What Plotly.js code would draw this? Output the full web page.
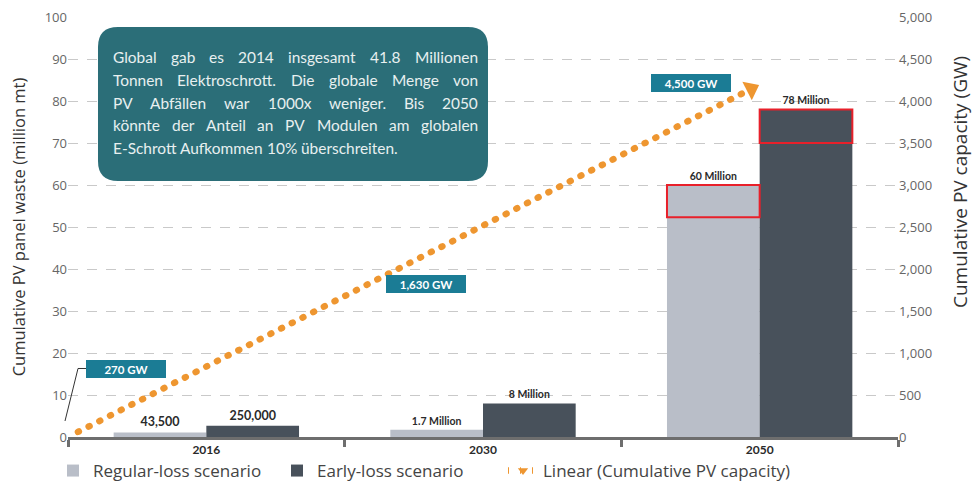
<!DOCTYPE html>
<html><head><meta charset="utf-8">
<script src="https://cdn.plot.ly/plotly-3.0.1.min.js"></script>
<style>
html,body{margin:0;padding:0;background:#fff;}
#chart{width:976px;height:486px;}
.scatterlayer path.js-line, .legend path.js-line{stroke-linecap:round !important;}
.legend path.legendbar{transform:scale(1.5);}
</style></head><body><div id="chart"></div>
<script>
// ---- data ----
const years = ['2016', '2030', '2050'];
const regularLoss = [1.1, 1.7, 60];     // million mt (bar heights as drawn)
const earlyLoss = [2.7, 8, 78];
const regularLabels = ['43,500', '1.7 Million', '60 Million'];
const earlyLabels = ['250,000', '8 Million', '78 Million'];
const capacityLabels = ['270 GW', '1,630 GW', '4,500 GW'];
const trendPos = [0.036, 2.469];        // position along the category axis (0..3)
const trendGW = [60, 4143];             // linear trend of cumulative PV capacity (GW)
const boxLines = [
  'Global gab es 2014 insgesamt 41.8 Millionen',
  'Tonnen Elektroschrott. Die globale Menge von',
  'PV Abfällen war 1000x weniger. Bis 2050',
  'könnte der Anteil an PV Modulen am globalen',
  'E-Schrott Aufkommen 10% überschreiten.'
];

// ---- geometry helpers ----
const L = 68, R = 898, T = 17, B = 437;
const fx = x => (x - L) / (R - L);
const fy = y => (B - y) / (B - T);
const P = (x, y) => fx(x).toFixed(5) + ',' + fy(y).toFixed(5);

const ORANGE = '#ee9630';
const TEAL = '#1b7c95';
const BOXC = '#2b6e78';

const traces = [
  {
    type: 'bar', name: 'Regular-loss scenario', x: years, y: regularLoss, legend: 'legend',
    text: regularLabels, textposition: 'outside', cliponaxis: false, constraintext: 'none',
    textfont: {family: 'Lato', size: [12.5, 10.5, 10.5], color: '#2a2a2a', weight: 700},
    marker: {color: '#b9bec8'}, hoverinfo: 'skip'
  },
  {
    type: 'bar', name: 'Early-loss scenario', x: years, y: earlyLoss, legend: 'legend2',
    text: earlyLabels, textposition: 'outside', cliponaxis: false, constraintext: 'none',
    textfont: {family: 'Lato', size: [12.5, 10.5, 10.5], color: '#2a2a2a', weight: 700},
    marker: {color: '#48515b'}, hoverinfo: 'skip'
  },
  {
    type: 'scatter', name: 'Linear (Cumulative PV capacity)', x: trendPos, y: trendGW, legend: 'legend3',
    xaxis: 'x2', yaxis: 'y2', mode: 'lines+markers', cliponaxis: false,
    line: {color: ORANGE, width: 6.5, dash: '1px,11px'},
    marker: {symbol: ['triangle-right', 'triangle-up'], size: [0, 18], angleref: 'previous',
             color: ORANGE, opacity: 1, line: {width: 0, color: ORANGE}},
    hoverinfo: 'skip'
  }
];

// ---- annotations ----
const annotations = [];
const capPos = [[126, 369], [426, 283.5], [691, 83]];
capacityLabels.forEach((t, i) => {
  annotations.push({
    xref: 'paper', yref: 'paper', x: fx(capPos[i][0]), y: fy(capPos[i][1]),
    xanchor: 'center', yanchor: 'middle',
    text: '<b>' + t + '</b>', showarrow: false, width: 80, height: 18,
    bgcolor: TEAL, borderpad: 0, borderwidth: 0,
    font: {family: 'Lato', size: 11.5, color: '#ffffff'}
  });
});

// right axis title (placed like the original, off-centre)
annotations.push({
  xref: 'paper', yref: 'paper', x: fx(960), y: fy(182), xanchor: 'center', yanchor: 'middle',
  text: 'Cumulative PV capacity (GW)', textangle: -90, showarrow: false,
  font: {family: 'Open Sans', size: 19, color: '#333'}
});

// justified text box
const cv = document.createElement('canvas').getContext('2d');
const FAM = 'Lato';
cv.font = '15px ' + FAM;
let fs = 15 * 285 / cv.measureText(boxLines[4]).width;
fs = Math.max(12, Math.min(16, fs));
cv.font = fs + 'px ' + FAM;
const Lx = 113, Rx = 478, y0 = 57.5, dy = 22.5;
boxLines.forEach((line, i) => {
  const words = line.split(' ');
  const ws = words.map(w => cv.measureText(w).width);
  const tot = ws.reduce((a, b) => a + b, 0);
  const gap = (i < boxLines.length - 1) ? (Rx - Lx - tot) / (words.length - 1) : cv.measureText(' ').width;
  let x = Lx;
  words.forEach((w, k) => {
    annotations.push({
      xref: 'paper', yref: 'paper', x: fx(x), y: fy(y0 + i * dy), xanchor: 'left', yanchor: 'middle',
      text: w, showarrow: false, borderpad: 0, borderwidth: 0,
      font: {family: FAM, size: fs, color: '#e8f0f0'}
    });
    x += ws[k] + gap;
  });
});

// ---- shapes ----
function roundRect(x0, y0, x1, y1, r) {
  return 'M' + P(x0 + r, y0) + ' L' + P(x1 - r, y0) + ' Q' + P(x1, y0) + ' ' + P(x1, y0 + r) +
    ' L' + P(x1, y1 - r) + ' Q' + P(x1, y1) + ' ' + P(x1 - r, y1) +
    ' L' + P(x0 + r, y1) + ' Q' + P(x0, y1) + ' ' + P(x0, y1 - r) +
    ' L' + P(x0, y0 + r) + ' Q' + P(x0, y0) + ' ' + P(x0 + r, y0) + ' Z';
}
const bargap = 0.33;
const shapes = [
  {type: 'path', xref: 'paper', yref: 'paper', layer: 'above', path: roundRect(98, 27, 488, 181, 20),
   fillcolor: BOXC, line: {width: 0}},
  {type: 'path', xref: 'paper', yref: 'paper', layer: 'above',
   path: 'M' + P(86, 368.5) + ' L' + P(78, 368.5) + ' L' + P(65, 421), line: {color: '#333', width: 1}},
  // red highlight boxes on the 2050 bars
  {type: 'rect', xref: 'x2', yref: 'y', x0: 2 + bargap / 2, x1: 2.5, y0: regularLoss[2] - 7.7, y1: regularLoss[2],
   line: {color: '#e8202a', width: 2}, layer: 'above'},
  {type: 'rect', xref: 'x2', yref: 'y', x0: 2.5, x1: 3 - bargap / 2, y0: earlyLoss[2] - 8, y1: earlyLoss[2],
   line: {color: '#e8202a', width: 2}, layer: 'above'}
];

const legendBase = {
  orientation: 'h', xanchor: 'left', y: fy(471), yanchor: 'middle',
  font: {size: 17, color: '#444'}, bgcolor: 'rgba(0,0,0,0)'
};

const layout = {
  width: 976, height: 486,
  margin: {l: L, r: 976 - R, t: T, b: 486 - B, autoexpand: false},
  paper_bgcolor: '#ffffff', plot_bgcolor: '#ffffff',
  barmode: 'group', bargap: bargap, bargroupgap: 0,
  font: {family: 'Open Sans', color: '#444'},
  showlegend: true,
  xaxis: {
    type: 'category', categoryorder: 'array', categoryarray: years,
    tickson: 'boundaries', ticks: 'outside', ticklen: 7, tickwidth: 3, tickcolor: '#6e6e6e',
    showline: true, linecolor: '#6e6e6e', linewidth: 3, showgrid: false, zeroline: false,
    tickfont: {family: 'Lato', size: 12, color: '#2a2a2a', weight: 700}
  },
  xaxis2: {overlaying: 'x', range: [0, 3], visible: false},
  yaxis: {
    range: [0, 100], dtick: 10, tick0: 0, showgrid: true, gridcolor: '#c9c9c9', griddash: '10px,9px',
    gridwidth: 1, zeroline: false, showline: false, ticks: '',
    tickfont: {size: 13, color: '#666'},
    title: {text: 'Cumulative PV panel waste (million mt)', font: {size: 16.5, color: '#333'}}
  },
  yaxis2: {
    overlaying: 'y', side: 'right', range: [0, 5000], dtick: 500, tick0: 0, tickformat: ',d',
    showgrid: false, zeroline: false, showline: false, ticks: '',
    tickfont: {size: 13, color: '#666'}
  },
  legend: Object.assign({}, legendBase, {x: fx(53)}),
  legend2: Object.assign({}, legendBase, {x: fx(277)}),
  legend3: Object.assign({}, legendBase, {x: fx(503)}),
  shapes: shapes,
  annotations: annotations
};

Plotly.newPlot('chart', traces, layout, {staticPlot: true, displayModeBar: false});
</script></body></html>
